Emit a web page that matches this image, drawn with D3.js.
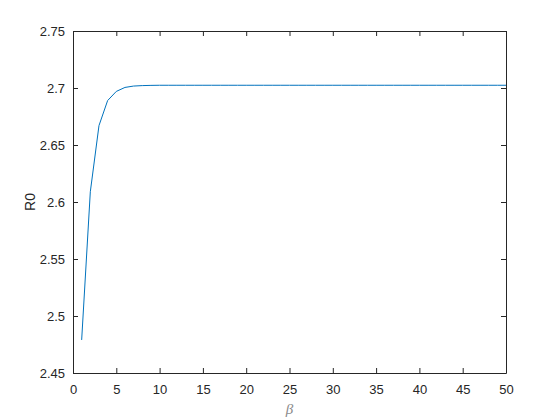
<!DOCTYPE html>
<html>
<head>
<meta charset="utf-8">
<script src="https://cdn.jsdelivr.net/npm/d3@7"></script>
<style>
body { margin: 0; background: #fff; }
text { font-family: Arial, "Liberation Sans", sans-serif; }
</style>
</head>
<body>
<div class="chart"></div>
<script>
// beta values and R0
var betaValues = [1, 2, 3, 4, 5, 6, 7, 8, 9, 10,
    11, 12, 13, 14, 15, 16, 17, 18, 19, 20,
    21, 22, 23, 24, 25, 26, 27, 28, 29, 30,
    31, 32, 33, 34, 35, 36, 37, 38, 39, 40,
    41, 42, 43, 44, 45, 46, 47, 48, 49, 50];
var r0Values = [2.479, 2.609, 2.667, 2.689, 2.697, 2.7005, 2.7017, 2.7021, 2.7023, 2.7024,
    2.7024, 2.7024, 2.7024, 2.7024, 2.7024, 2.7024, 2.7024, 2.7024, 2.7024, 2.7024,
    2.7024, 2.7024, 2.7024, 2.7024, 2.7024, 2.7024, 2.7024, 2.7024, 2.7024, 2.7024,
    2.7024, 2.7024, 2.7024, 2.7024, 2.7024, 2.7024, 2.7024, 2.7024, 2.7024, 2.7024,
    2.7024, 2.7024, 2.7024, 2.7024, 2.7024, 2.7024, 2.7024, 2.7024, 2.7024, 2.7024];
var xTicks = [0, 5, 10, 15, 20, 25, 30, 35, 40, 45, 50];
var yTicks = [2.45, 2.5, 2.55, 2.6, 2.65, 2.7, 2.75];

var width = 560, height = 420;
var margin = {top: 31, right: 54, bottom: 47, left: 73};
var w = width - margin.left - margin.right,
    h = height - margin.top - margin.bottom;
var axisColor = "#262626";

var svg = d3.select("div.chart")
    .append("svg")
    .attr("width", width)
    .attr("height", height);

var g = svg.append("g")
    .attr("transform", "translate(" + margin.left + "," + margin.top + ")");

var x = d3.scaleLinear().domain([0, 50]).range([0, w]);
var y = d3.scaleLinear().domain([2.45, 2.75]).range([h, 0]);

// axes, ticks pointing inward (matlab style)
function styleAxis(sel) {
    sel.select(".domain").attr("stroke", axisColor);
    sel.selectAll(".tick line").attr("stroke", axisColor);
    sel.selectAll(".tick text").attr("fill", axisColor).style("font-size", "13px");
}

g.append("g")
    .attr("transform", "translate(0," + h + ")")
    .call(d3.axisBottom(x).tickValues(xTicks).tickSize(-5).tickSizeOuter(0).tickPadding(12).tickFormat(d3.format("d")))
    .call(styleAxis);

g.append("g")
    .call(d3.axisTop(x).tickValues(xTicks).tickSize(-5).tickSizeOuter(0).tickFormat(""))
    .call(styleAxis);

g.append("g")
    .call(d3.axisLeft(y).tickValues(yTicks).tickSize(-5).tickSizeOuter(0).tickPadding(8).tickFormat(function (d) { return d3.format("")(+d.toFixed(2)); }))
    .call(styleAxis);

g.append("g")
    .attr("transform", "translate(" + w + ",0)")
    .call(d3.axisRight(y).tickValues(yTicks).tickSize(-5).tickSizeOuter(0).tickFormat(""))
    .call(styleAxis);

g.selectAll(".domain").attr("stroke-width", 1);

// the curve
var line = d3.line()
    .x(function (d, i) { return x(betaValues[i]); })
    .y(function (d) { return y(d); });

g.append("path")
    .datum(r0Values)
    .attr("fill", "none")
    .attr("stroke", "#0072BD")
    .attr("stroke-width", 1)
    .attr("d", line);

// labels
svg.append("text")
    .attr("x", margin.left + w / 2)
    .attr("y", 414)
    .attr("text-anchor", "middle")
    .style("font-family", "'Liberation Serif', 'DejaVu Serif', serif")
    .style("font-style", "italic")
    .style("font-size", "15px")
    .attr("fill", "#8a8a8a")
    .text("β");

svg.append("text")
    .attr("transform", "translate(35," + (margin.top + h / 2) + ") rotate(-90)")
    .attr("text-anchor", "middle")
    .style("font-size", "14px")
    .attr("fill", axisColor)
    .text("R0");
</script>
</body>
</html>
